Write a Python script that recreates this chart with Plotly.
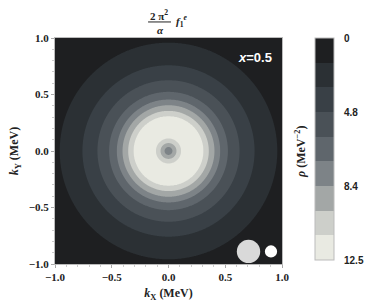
import numpy as np
import plotly.graph_objects as go

# Contour levels of rho (MeV^-2), as shown on the legend bar (9 bands)
levels = [0.0, 1.6, 3.2, 4.8, 6.0, 7.2, 8.4, 9.8, 11.2, 12.5]
band_colors = ["#1e1f21", "#2b3034", "#394046", "#4a5157", "#5f666c",
               "#7d8387", "#a3a7a6", "#cdcfca", "#e9eae2"]
legend_ticks = [0.0, 4.8, 8.4, 12.5]
legend_ticktext = ["0", "4.8", "8.4", "12.5"]

r_profile = [0.0, 0.035, 0.07, 0.11, 0.2, 0.308, 0.355, 0.405, 0.455, 0.523,
             0.626, 0.758, 0.958, 1.2, 1.5]
rho_profile = [7.8, 8.4, 9.8, 11.2, 12.4, 11.2, 9.8, 8.4, 7.2, 6.0,
               4.8, 3.2, 1.6, 0.6, 0.2]

# decorative discs (x, y, radius, colour) in data units
discs_x = [0.705, 0.903]
discs_y = [-0.889, -0.889]
discs_r = [0.103, 0.054]
discs_c = ["#d9d9d9", "#ffffff"]

kx = np.linspace(-1, 1, 401)
ky = np.linspace(-1, 1, 401)
KX, KY = np.meshgrid(kx, ky)
R = np.sqrt(KX**2 + KY**2)
rho = np.interp(R, r_profile, rho_profile)
# map rho onto band index (non-uniform levels -> equal legend bands); negative so 0 is at top
band_idx = np.interp(rho, levels, np.arange(len(levels)))
z = -band_idx

nb = len(band_colors)
cs = []
for i in range(nb):
    c = band_colors[nb - 1 - i]  # low z (= high rho) -> light
    cs.append([i / nb, c])
    cs.append([(i + 1) / nb, c])

tickvals = [-float(np.interp(t, levels, np.arange(len(levels)))) for t in legend_ticks]

fig = go.Figure()
fig.add_trace(go.Contour(
    x=kx, y=ky, z=z,
    zmin=-nb, zmax=0, colorscale=cs,
    contours=dict(start=-nb, end=0, size=1, coloring="fill", showlines=False),
    line=dict(width=0),
    colorbar=dict(
        x=(315 - 55) / 227, xanchor="left", xpad=0,
        y=(264 - 149) / 226, yanchor="middle", ypad=0,
        len=222, lenmode="pixels", thickness=19,
        outlinecolor="#bbbbbb", outlinewidth=1,
        tickvals=tickvals, ticktext=["<b>%s</b>" % t for t in legend_ticktext],
        ticks="outside", ticklen=8, tickcolor="rgba(0,0,0,0)",
        tickfont=dict(family="Liberation Sans", size=10, color="#222222"),
    ),
    hoverinfo="skip",
))

axis_common = dict(
    range=[-1, 1], showgrid=False, zeroline=True, zerolinecolor="rgba(30,30,30,0.75)",
    zerolinewidth=1, showline=True, mirror=True, linecolor="#bbbbbb", linewidth=1,
    ticks="outside", ticklen=3, tickcolor="#aaaaaa", tickwidth=1,
    tickvals=[-1, -0.5, 0, 0.5, 1], tickformat=".1f",
    minor=dict(ticks="outside", ticklen=2, tickcolor="#cccccc", dtick=0.1),
    tickfont=dict(family="Liberation Serif", size=11, color="#222222", weight="bold"),
    layer="above traces", automargin=False,
)
fig.update_xaxes(**axis_common,
                 title=dict(text="<i>k</i><sub>X</sub> (MeV)", standoff=6,
                            font=dict(family="Liberation Serif", size=12, color="#222222", weight="bold")))
fig.update_yaxes(**axis_common,
                 title=dict(text="<i>k</i><sub>Y</sub> (MeV)", standoff=7,
                            font=dict(family="Liberation Serif", size=12, color="#222222", weight="bold")))

for x0, y0, r0, c0 in zip(discs_x, discs_y, discs_r, discs_c):
    fig.add_shape(type="circle", xref="x", yref="y", x0=x0 - r0, x1=x0 + r0,
                  y0=y0 - r0, y1=y0 + r0, fillcolor=c0, line=dict(width=0))

tf = dict(family="Liberation Serif", size=11, color="#222222", weight="bold")
ann = dict(xref="paper", yref="paper", showarrow=False, xanchor="center", yanchor="middle")
fig.add_annotation(text="2 π<sup>2</sup>", x=0.458, y=1.103, font=tf, **ann)
fig.add_shape(type="line", xref="paper", yref="paper", x0=0.41, x1=0.511, y0=1.071, y1=1.071,
              line=dict(color="#222222", width=1))
fig.add_annotation(text="<i>α</i>", x=0.4626, y=1.036, font=tf, **ann)
fig.add_annotation(text="<i>f</i><sub>1</sub><sup><i>e</i></sup>", x=0.56, y=1.075, font=tf, **ann)
fig.add_annotation(text="<i>x</i>=0.5", x=0.76, y=0.826, xref="x", yref="y",
                   showarrow=False, xanchor="center", yanchor="middle",
                   font=dict(family="Liberation Sans", size=13, color="#ffffff", weight="bold"))
fig.add_annotation(text="<i>ρ</i> (MeV<sup>−2</sup>)", x=(300 - 55) / 227, y=(264 - 152) / 226,
                   textangle=-90,
                   font=dict(family="Liberation Serif", size=12, color="#222222", weight="bold"), **ann)

fig.update_layout(
    width=374, height=308,
    margin=dict(l=55, r=92, t=38, b=44, autoexpand=False),
    paper_bgcolor="white", plot_bgcolor="white",
    showlegend=False,
)
fig.write_html("out.html", config={"displayModeBar": False},
               post_script="document.body.style.margin='0';")
